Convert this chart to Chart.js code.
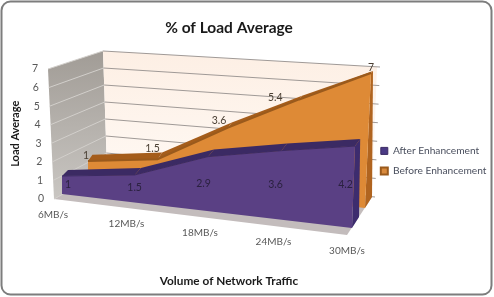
<!DOCTYPE html>
<html lang="en">

<head>
  <meta charset="UTF-8" />
  <title>% of Load Average</title>
  <style>
    html,
    body {
      margin: 0;
      background: #fff;
    }

    #wrap {
      width: 494px;
      height: 297px;
    }
  </style>
</head>

<body>
  <div id="wrap"><canvas id="myChart"></canvas></div>
  <script src="https://cdnjs.cloudflare.com/ajax/libs/Chart.js/4.4.1/chart.umd.min.js"></script>
  <script>
    const categories = ["6MB/s", "12MB/s", "18MB/s", "24MB/s", "30MB/s"];
    const afterValues = [1, 1.5, 2.9, 3.6, 4.2];
    const beforeValues = [1, 1.5, 3.6, 5.4, 7];
    const yTicks = [0, 1, 2, 3, 4, 5, 6, 7];

    // corners of each 3d plane on the page, bottom/top at left and right, top = value 7
    const afterFront = { bl: [62, 194], tl: [62, 68], br: [352, 228], tr: [357, 91.5] };
    const afterBack = { bl: [68, 188], tl: [68, 62], br: [359, 217], tr: [361, 87] };
    const beforeFront = { bl: [88, 178], tl: [88, 59], br: [365, 208], tr: [371, 73] };
    const beforeBack = { bl: [93, 171], tl: [89, 58], br: [372, 197], tr: [373, 71] };
    const backWall = { bl: [107, 170], tl: [103, 51], br: [372, 197], tr: [377, 67] };
    const leftWall = { bl: [54, 199], tl: [48, 69], br: [107, 170], tr: [103, 51] };
    const floorBr = [347, 235];

    const faces = [
      { front: afterFront, back: afterBack, fill: "#5a4084", top: "#3b2a63", side: "#3d2c6e" },
      { front: beforeFront, back: beforeBack, fill: "#de8a36", top: "#a55d1b", side: "#b0641f" }
    ];

    // nudges for the value labels, Excel moved these by hand
    const afterNudge = [[6, 0], [0, -1], [-4, 0], [-5, 0], [-8, -2]];
    const beforeNudge = [[-2, -5], [-5, -11], [-9, -7], [-24, -2], [0, -5]];

    function warp(p, u, v) {
      const bx = p.bl[0] + (p.br[0] - p.bl[0]) * u;
      const by = p.bl[1] + (p.br[1] - p.bl[1]) * u;
      const tx = p.tl[0] + (p.tr[0] - p.tl[0]) * u;
      const ty = p.tl[1] + (p.tr[1] - p.tl[1]) * u;
      return [bx + (tx - bx) * v, by + (ty - by) * v];
    }

    function poly(ctx, pts, fill) {
      ctx.beginPath();
      pts.forEach((p, i) => (i ? ctx.lineTo(p[0], p[1]) : ctx.moveTo(p[0], p[1])));
      ctx.closePath();
      ctx.fillStyle = fill;
      ctx.fill();
    }

    const plot3d = {
      id: "plot3d",
      afterLayout(chart) {
        const lg = chart.legend;
        lg.left = 371;
        lg.top = 136;
        lg.bottom = 136 + lg.height;
        lg.right = 371 + lg.width;
      },
      beforeDraw(chart) {
        const ctx = chart.ctx;
        ctx.save();
        ctx.fillStyle = "#fff";
        ctx.fillRect(0, 0, 494, 297);
        ctx.beginPath();
        ctx.roundRect(1.5, 1.5, 490, 293, 9);
        ctx.strokeStyle = "#7d7d7d";
        ctx.lineWidth = 2;
        ctx.stroke();
        ctx.restore();
      },
      afterDatasetsUpdate(chart) {
        const { x, y } = chart.scales;
        chart.data.datasets.forEach((ds, i) => {
          const meta = chart.getDatasetMeta(i);
          meta.uv = meta.data.map((pt) => [(pt.x - x.left) / x.width, (y.bottom - pt.y) / y.height]);
          meta.data.forEach((pt, k) => {
            const q = warp(faces[i].front, meta.uv[k][0], meta.uv[k][1]);
            pt.x = q[0];
            pt.y = q[1];
          });
        });
      },
      beforeDatasetsDraw(chart) {
        const ctx = chart.ctx;
        const y = chart.scales.y;
        ctx.save();
        let g = ctx.createLinearGradient(0, 51, 0, 199);
        g.addColorStop(0, "#a19c96");
        g.addColorStop(1, "#c9c6c2");
        poly(ctx, [leftWall.bl, leftWall.tl, leftWall.tr, leftWall.br], g);
        g = ctx.createLinearGradient(0, 51, 0, 197);
        g.addColorStop(0, "#fdefe4");
        g.addColorStop(1, "#fffaf6");
        poly(ctx, [backWall.bl, backWall.tl, backWall.tr, backWall.br], g);
        poly(ctx, [leftWall.bl, leftWall.br, backWall.br, floorBr], "#c3bcbc");
        y.ticks.forEach((t) => {
          const v = (y.bottom - y.getPixelForValue(t.value)) / y.height;
          const a = warp(leftWall, 0, v);
          const b = warp(leftWall, 1, v);
          const c = warp(backWall, 1, v);
          ctx.lineWidth = 1;
          ctx.strokeStyle = "#d2cfcb";
          ctx.beginPath();
          ctx.moveTo(a[0], a[1]);
          ctx.lineTo(b[0], b[1]);
          ctx.stroke();
          ctx.strokeStyle = "#a09a97";
          ctx.beginPath();
          ctx.moveTo(b[0], b[1]);
          ctx.lineTo(c[0] + 3, c[1]);
          ctx.stroke();
          // y tick label leans with the wall edge
          ctx.fillStyle = "#595959";
          ctx.font = "10.5px Lato";
          ctx.textAlign = "center";
          ctx.textBaseline = "middle";
          ctx.fillText(t.label, a[0] - 13, a[1]);
        });
        ctx.restore();
      },
      beforeDatasetDraw(chart, args) {
        const ctx = chart.ctx;
        const f = faces[args.index];
        const uv = chart.getDatasetMeta(args.index).uv;
        const last = uv[uv.length - 1];
        ctx.save();
        poly(ctx, [warp(f.back, 1, 0), warp(f.back, 1, last[1]), warp(f.front, 1, last[1]), warp(f.front, 1, 0)], f.side);
        for (let i = 0; i < uv.length - 1; i++) {
          poly(ctx, [
            warp(f.front, uv[i][0], uv[i][1]), warp(f.back, uv[i][0], uv[i][1]),
            warp(f.back, uv[i + 1][0], uv[i + 1][1]), warp(f.front, uv[i + 1][0], uv[i + 1][1])
          ], f.top);
        }
        const pts = uv.map((c) => warp(f.front, c[0], c[1]));
        pts.push(warp(f.front, 1, 0), warp(f.front, 0, 0));
        poly(ctx, pts, f.fill);
        ctx.restore();
      },
      afterDatasetsDraw(chart) {
        const ctx = chart.ctx;
        const x = chart.scales.x;
        ctx.save();
        ctx.textAlign = "center";
        ctx.textBaseline = "middle";
        ctx.font = "10px Lato";
        ctx.fillStyle = "#595959";
        categories.forEach((c, i) => {
          const u = (x.getPixelForValue(i) - x.left) / x.width;
          ctx.fillText(c, 53 + 294 * u, 215 + 36 * u);
        });
        const uvA = chart.getDatasetMeta(0).uv;
        const uvB = chart.getDatasetMeta(1).uv;
        ctx.font = "10.5px Lato";
        ctx.fillStyle = "#2b2140";
        afterValues.forEach((v, i) => {
          const q = warp(afterFront, uvA[i][0], uvA[i][1] / 2);
          ctx.fillText(v, q[0] + afterNudge[i][0], q[1] + afterNudge[i][1]);
        });
        ctx.fillStyle = "#4a3f33";
        beforeValues.forEach((v, i) => {
          const q = warp(beforeFront, uvB[i][0], uvB[i][1]);
          ctx.fillText(v, q[0] + beforeNudge[i][0], q[1] + beforeNudge[i][1]);
        });
        ctx.restore();
      }
    };

    Chart.defaults.font.family = "Lato";
    Chart.defaults.color = "#595959";

    new Chart(document.getElementById("myChart"), {
      type: "line",
      data: {
        labels: categories,
        datasets: [
          {
            label: "After Enhancement",
            data: afterValues,
            backgroundColor: "#4a3a85",
            borderColor: "#3b2a63",
            borderWidth: 1,
            pointRadius: 0,
            clip: false
          },
          {
            label: "Before Enhancement",
            data: beforeValues,
            backgroundColor: "#d98a3d",
            borderColor: "#9a5a1c",
            borderWidth: 2,
            pointRadius: 0,
            clip: false
          }
        ]
      },
      plugins: [plot3d],
      options: {
        responsive: true,
        maintainAspectRatio: false,
        animation: false,
        layout: { padding: { right: 84 } },
        plugins: {
          title: {
            display: true,
            text: "% of Load Average",
            fullSize: false,
            color: "#1a1a1a",
            font: { size: 15.5, weight: "bold" },
            padding: { top: 19, bottom: 31 }
          },
          legend: {
            position: "chartArea",
            align: "start",
            labels: {
              boxWidth: 7,
              boxHeight: 7,
              padding: 9.8,
              color: "#4a4f5e",
              font: { size: 10.2 }
            }
          },
          tooltip: { enabled: false }
        },
        scales: {
          x: {
            grid: { display: false },
            border: { display: false },
            ticks: { display: false },
            afterFit(scale) { scale.height = 98; },
            title: {
              display: true,
              text: "Volume of Network Traffic",
              color: "#1a1a1a",
              font: { size: 11.8, weight: "bold" },
              padding: { top: 0, bottom: 9 }
            }
          },
          y: {
            min: 0,
            max: 7,
            afterBuildTicks(scale) { scale.ticks = yTicks.map((v) => ({ value: v })); },
            grid: { display: false },
            border: { display: false },
            ticks: { display: false },
            afterFit(scale) { scale.width = 48; },
            title: {
              display: true,
              text: "Load Average",
              color: "#1a1a1a",
              font: { size: 11, weight: "bold" },
              padding: { top: 9, bottom: 0 }
            }
          }
        }
      }
    });
  </script>
</body>

</html>
